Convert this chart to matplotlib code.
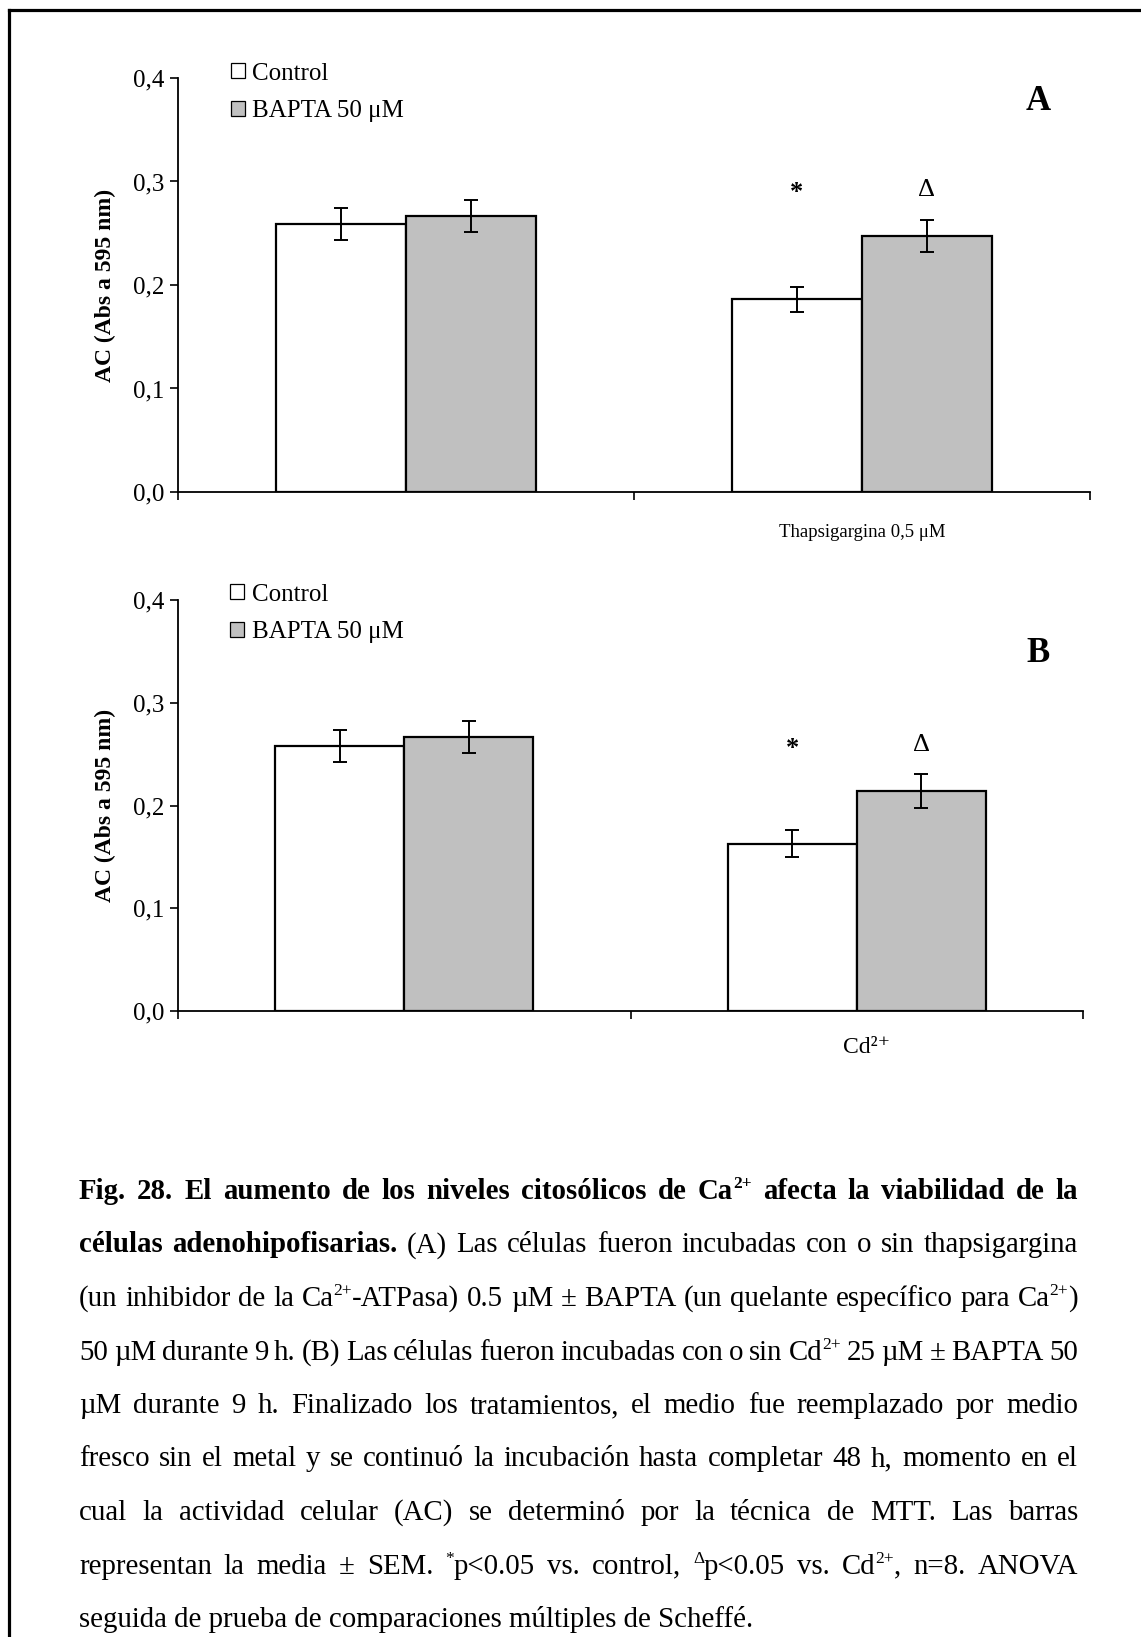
import re
import matplotlib
matplotlib.use('Agg')
import matplotlib.pyplot as plt
from matplotlib.lines import Line2D
from matplotlib.patches import Patch
from matplotlib.transforms import offset_copy, ScaledTranslation
import numpy as np

plt.rcParams['font.family'] = ['Liberation Serif', 'DejaVu Serif']

# ---- data -------------------------------------------------------------
series_names = ['Control', 'BAPTA 50 μM']
categories_a = ['', 'Thapsigargina 0,5 μM']
categories_b = ['', 'Cd²⁺']

control_a = [0.259, 0.186]
control_a_sem = [0.0155, 0.0125]
bapta_a = [0.267, 0.247]
bapta_a_sem = [0.0155, 0.0155]

control_b = [0.258, 0.163]
control_b_sem = [0.0155, 0.013]
bapta_b = [0.267, 0.214]
bapta_b_sem = [0.0155, 0.0165]

# significance marks above the treated group: (series index, symbol)
sig_marks = [(0, '*'), (1, 'Δ')]
sig_level_a = 0.295
sig_level_b = 0.262

y_ticks = [0.0, 0.1, 0.2, 0.3, 0.4]
y_tick_labels = ['0,0', '0,1', '0,2', '0,3', '0,4']
y_label = 'AC (Abs a 595 nm)'
panel_letters = ['A', 'B']

# caption text; ^{...} marks a superscript
caption_lines = [
    [("Fig. 28. El aumento de los niveles citosólicos de Ca^{2+} afecta la viabilidad de la", 'bold')],
    [("células adenohipofisarias.", 'bold'),
     ("(A) Las células fueron incubadas con o sin thapsigargina", 'normal')],
    [("(un inhibidor de la Ca^{2+}-ATPasa) 0.5 µM ± BAPTA (un quelante específico para Ca^{2+})", 'normal')],
    [("50 µM durante 9 h. (B) Las células fueron incubadas con o sin Cd^{2+} 25 µM ± BAPTA 50", 'normal')],
    [("µM durante 9 h. Finalizado los tratamientos, el medio fue reemplazado por medio", 'normal')],
    [("fresco sin el metal y se continuó la incubación hasta completar 48 h, momento en el", 'normal')],
    [("cual la actividad celular (AC) se determinó por la técnica de MTT. Las barras", 'normal')],
    [("representan la media ± SEM. ^{*}p<0.05 vs. control, ^{Δ}p<0.05 vs. Cd^{2+}, n=8. ANOVA", 'normal')],
    [("seguida de prueba de comparaciones múltiples de Scheffé.", 'normal')],
]

# ---- figure -----------------------------------------------------------
W, H = 1141, 1637
fig = plt.figure(figsize=(W / 100, H / 100), dpi=100)
fig.patch.set_facecolor('white')

BAR_W = 0.285
CTRL_COLOR = 'white'
BAPTA_COLOR = '#c0c0c0'
SIG_NUDGE = {'*': -4.5, 'Δ': -2.2}   # points, vertical fine-tuning of glyphs


def draw_panel(rect, ctrl, ctrl_sem, bapta, bapta_sem, cats, sig_level, letter,
               letter_pos, legend_anchor, cat_size, cat_pad, cat_shift):
    ax = fig.add_axes(rect)
    x = np.arange(len(cats)) + 0.5
    err_kw = dict(elinewidth=1.4, capthick=1.4, ecolor='black')
    ax.bar(x - BAR_W / 2, ctrl, BAR_W, color=CTRL_COLOR, edgecolor='black',
           linewidth=1.6, yerr=ctrl_sem, capsize=5, error_kw=err_kw, zorder=2)
    ax.bar(x + BAR_W / 2, bapta, BAR_W, color=BAPTA_COLOR, edgecolor='black',
           linewidth=1.6, yerr=bapta_sem, capsize=5, error_kw=err_kw, zorder=2)

    for idx, sym in sig_marks:
        xs = x[-1] + (idx - 0.5) * BAR_W
        tr = offset_copy(ax.transData, fig=fig, x=0, y=SIG_NUDGE[sym], units='points')
        ax.text(xs, sig_level, sym, ha='center', va='center', fontsize=19,
                fontweight='bold' if sym == '*' else 'normal', transform=tr)

    ax.set_xlim(0, len(cats))
    ax.set_ylim(0, 0.4)
    ax.set_yticks(y_ticks)
    ax.set_yticklabels(y_tick_labels, fontsize=18)
    ax.set_xticks(np.arange(len(cats) + 1))
    ax.set_xticklabels([''] * (len(cats) + 1))
    ax.set_xticks(x, minor=True)
    ax.set_xticklabels(cats, minor=True, fontsize=cat_size)
    ax.tick_params(axis='x', which='minor', length=0, pad=cat_pad)
    ax.tick_params(axis='both', which='major', direction='out', length=5.5,
                   width=1.2, colors='black')
    ax.tick_params(axis='y', pad=4)
    if cat_shift:
        for lab in ax.get_xticklabels(minor=True):
            lab.set_transform(lab.get_transform() +
                              ScaledTranslation(cat_shift / 72, 0, fig.dpi_scale_trans))
    for side in ('top', 'right'):
        ax.spines[side].set_visible(False)
    for side in ('left', 'bottom'):
        ax.spines[side].set_linewidth(1.3)

    ax.set_ylabel(y_label, fontsize=17, fontweight='bold')
    ax.yaxis.set_label_coords(-0.068, 0.5)

    ax.text(letter_pos[0], letter_pos[1], letter, transform=ax.transAxes,
            ha='center', va='center', fontsize=25, fontweight='bold')

    handles = [Patch(facecolor=CTRL_COLOR, edgecolor='black', linewidth=0.9),
               Patch(facecolor=BAPTA_COLOR, edgecolor='black', linewidth=0.9)]
    ax.legend(handles, series_names, loc='upper left',
              bbox_to_anchor=legend_anchor, frameon=False, fontsize=18,
              handlelength=0.56, handleheight=0.56, handletextpad=0.3,
              labelspacing=0.62, borderpad=0, borderaxespad=0)
    return ax


ax_a = draw_panel([178 / W, 1 - 492 / H, (1090 - 178) / W, (492 - 78) / H],
                  control_a, control_a_sem, bapta_a, bapta_a_sem, categories_a,
                  sig_level_a, panel_letters[0], (0.943, 0.944), (0.058, 1.037),
                  13.5, 23, 0)
ax_b = draw_panel([178 / W, 1 - 1011 / H, (1083 - 178) / W, (1011 - 600) / H],
                  control_b, control_b_sem, bapta_b, bapta_b_sem, categories_b,
                  sig_level_b, panel_letters[1], (0.950, 0.870), (0.058, 1.040),
                  17, 19, 7)

# page frame (left and top rules)
fig.add_artist(Line2D([9 / W, 9 / W], [0, 1 - 10 / H], transform=fig.transFigure,
                      color='black', linewidth=2.3))
fig.add_artist(Line2D([9 / W, 1], [1 - 10 / H, 1 - 10 / H], transform=fig.transFigure,
                      color='black', linewidth=2.3))

# ---- justified caption -------------------------------------------------
CAP_FS = 20.8
SUP_SCALE = 0.6
SUP_RAISE = 0.38 * CAP_FS * 100 / 72      # pixels
X0, X1 = 79, 1078
BASE0, LEAD = 1199, 53.5

fig.canvas.draw()
renderer = fig.canvas.get_renderer()
SUP_RE = re.compile(r'\^\{([^}]*)\}')


def word_pieces(word):
    pieces, pos = [], 0
    for m in SUP_RE.finditer(word):
        if m.start() > pos:
            pieces.append((word[pos:m.start()], False))
        pieces.append((m.group(1), True))
        pos = m.end()
    if pos < len(word):
        pieces.append((word[pos:], False))
    return pieces


def make_word(word, weight, base_px):
    arts = []
    for txt, sup in word_pieces(word):
        fs = CAP_FS * SUP_SCALE if sup else CAP_FS
        yb = base_px - (SUP_RAISE if sup else 0)
        t = fig.text(0, 1 - yb / H, txt, fontsize=fs, fontweight=weight,
                     va='baseline', ha='left')
        arts.append((t, t.get_window_extent(renderer).width))
    return arts


n_lines = len(caption_lines)
for i, segments in enumerate(caption_lines):
    base = BASE0 + i * LEAD
    if i == n_lines - 1:
        fig.text(X0 / W, 1 - base / H, segments[0][0], fontsize=CAP_FS,
                 fontweight=segments[0][1], va='baseline', ha='left')
        continue
    words = []
    for text, weight in segments:
        for w in text.split(' '):
            words.append(make_word(w, weight, base))
    widths = [sum(wd for _, wd in arts) for arts in words]
    gap = (X1 - X0 - sum(widths)) / (len(words) - 1)
    xp = X0
    for arts, wd in zip(words, widths):
        xa = xp
        for t, pw in arts:
            t.set_x(xa / W)
            xa += pw
        xp += wd + gap

fig.savefig('out.png', dpi=100, facecolor='white')
